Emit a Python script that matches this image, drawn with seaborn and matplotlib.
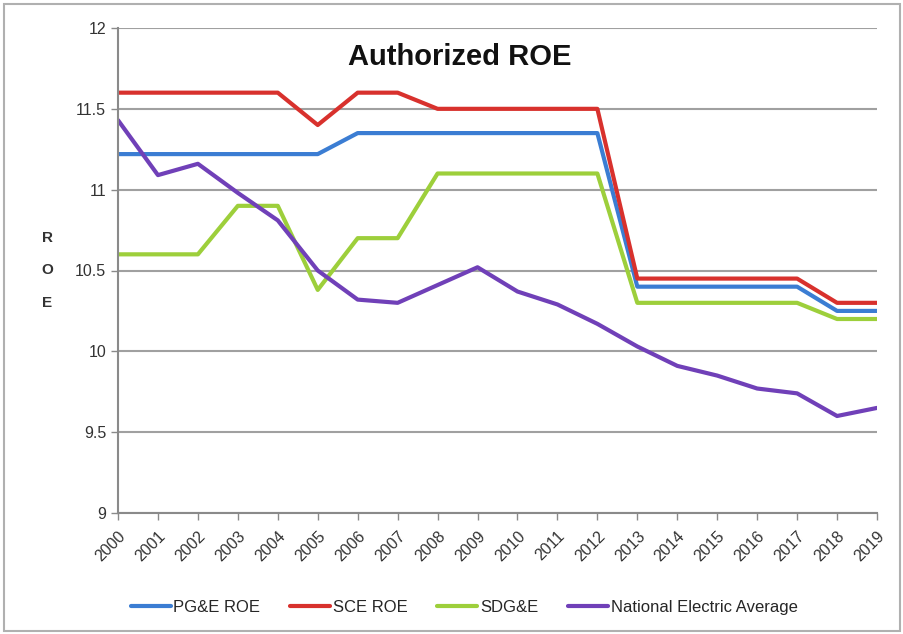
import pandas as pd
import seaborn as sns
import matplotlib.pyplot as plt
from matplotlib.patches import Rectangle

# 資料
years = list(range(2000, 2020))
pge_roe = [11.22, 11.22, 11.22, 11.22, 11.22, 11.22, 11.35, 11.35, 11.35, 11.35,
           11.35, 11.35, 11.35, 10.40, 10.40, 10.40, 10.40, 10.40, 10.25, 10.25]
sce_roe = [11.60, 11.60, 11.60, 11.60, 11.60, 11.40, 11.60, 11.60, 11.50, 11.50,
           11.50, 11.50, 11.50, 10.45, 10.45, 10.45, 10.45, 10.45, 10.30, 10.30]
sdge_roe = [10.60, 10.60, 10.60, 10.90, 10.90, 10.38, 10.70, 10.70, 11.10, 11.10,
            11.10, 11.10, 11.10, 10.30, 10.30, 10.30, 10.30, 10.30, 10.20, 10.20]
national_avg = [11.43, 11.09, 11.16, 10.98, 10.81, 10.50, 10.32, 10.30, 10.41, 10.52,
                10.37, 10.29, 10.17, 10.03, 9.91, 9.85, 9.77, 9.74, 9.60, 9.65]
series_names = ['PG&E ROE', 'SCE ROE', 'SDG&E', 'National Electric Average']
colors = ['#3b7dd3', '#d8312d', '#9dcf3b', '#7040b8']

df = pd.DataFrame({
    'year': years * 4,
    'roe': pge_roe + sce_roe + sdge_roe + national_avg,
    'series': sum([[n] * len(years) for n in series_names], []),
})

sns.set_theme(style='white')
plt.rcParams['font.family'] = ['Liberation Sans', 'DejaVu Sans']

fig = plt.figure(figsize=(9.04, 6.34), dpi=100)
ax = fig.add_axes([118 / 904, 1 - 513 / 634, (877 - 118) / 904, (513 - 28) / 634])

sns.lineplot(data=df, x='year', y='roe', hue='series', hue_order=series_names,
             palette=colors, linewidth=3, ax=ax)

ax.set_xlim(2000, 2019)
ax.set_ylim(9, 12)
ax.set_yticks([9, 9.5, 10, 10.5, 11, 11.5, 12])
ax.set_yticklabels(['9', '9.5', '10', '10.5', '11', '11.5', '12'], fontsize=11.5)
ax.set_xticks(years)
ax.set_xticklabels([str(y) for y in years], rotation=45, ha='right',
                   rotation_mode='anchor', fontsize=11.5)
ax.yaxis.grid(True, color='#a0a0a0', linewidth=1.5)
ax.set_axisbelow(True)
for side in ['top', 'right']:
    ax.spines[side].set_visible(False)
for side in ['left', 'bottom']:
    ax.spines[side].set_color('#8a8a8a')
    ax.spines[side].set_linewidth(1.5)
ax.tick_params(axis='both', direction='out', length=5, color='#8a8a8a', width=1,
               left=True, bottom=True, labelcolor='#333333')
ax.tick_params(axis='x', pad=6)

ax.set_xlabel('')
ax.set_ylabel('R\n\nO\n\nE', rotation=0, fontsize=11, fontweight='bold',
              va='center', labelpad=20, color='#333333')

ax.text(0.45, 0.97, 'Authorized ROE', transform=ax.transAxes, ha='center', va='top',
        fontsize=21, fontweight='bold', color='#111111')

ax.legend(loc='center', bbox_to_anchor=(0.456, -0.195), ncol=4, frameon=False,
          fontsize=12, handlelength=2.4, columnspacing=1.8, handletextpad=0.15)

fig.patches.append(Rectangle((0.004, 0.004), 0.992, 0.99, transform=fig.transFigure,
                             fill=False, edgecolor='#b0b0b0', linewidth=1.5))

plt.savefig('out.png', dpi=100)
plt.close()
